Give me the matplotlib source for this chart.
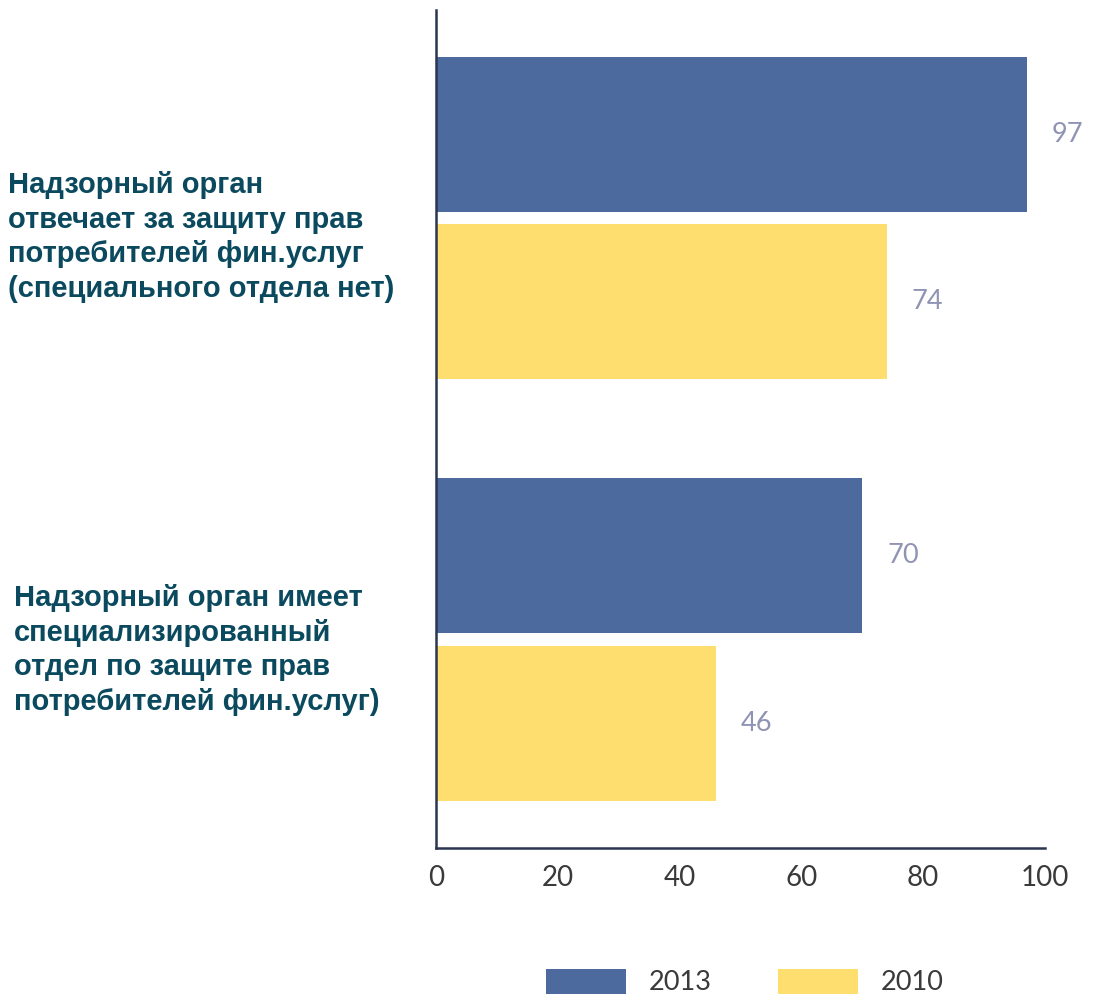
import matplotlib
matplotlib.use("Agg")
import matplotlib.pyplot as plt
import matplotlib.transforms as mtransforms
import numpy as np

categories = [
    "Надзорный орган\nотвечает за защиту прав\nпотребителей фин.услуг\n(специального отдела нет)",
    "Надзорный орган имеет\nспециализированный\nотдел по защите прав\nпотребителей фин.услуг)",
]
series_names = ["2013", "2010"]
values_2013 = [97, 70]
values_2010 = [74, 46]
x_ticks = [0, 20, 40, 60, 80, 100]

colors = ["#4C6A9D", "#FEDE6E"]

fig = plt.figure(figsize=(10.95, 10.02), dpi=100)
W, H = 1095, 1002
left, right, top, bottom = 436, 1045, 10, 848
ax = fig.add_axes([left / W, 1 - bottom / H, (right - left) / W, (bottom - top) / H])

pos = np.arange(len(categories))
off = 0.199
height = 0.368
series = [values_2013, values_2010]
bars = []
for i, (name, vals) in enumerate(zip(series_names, series)):
    yy = pos + (-off if i == 0 else off)
    b = ax.barh(yy, vals, height=height, color=colors[i], label=name)
    bars.append(b)
    for y, v in zip(yy, vals):
        ax.annotate(str(v), xy=(v, y), xytext=(18, 0), textcoords="offset points",
                    va="center", ha="left", fontsize=19.5, color="#9094B4",
                    family="Lato")

ax.set_ylim(1.4947, -0.4935)
ax.set_xlim(0, 100)
ax.set_xticks(x_ticks)
ax.set_xticklabels([str(t) for t in x_ticks], fontsize=20, color="#3A3A3A", family="Lato")
ax.tick_params(axis="x", length=0, pad=12)
ax.set_yticks([])
for s in ["top", "right"]:
    ax.spines[s].set_visible(False)
for s in ["left", "bottom"]:
    ax.spines[s].set_color("#2B3550")
    ax.spines[s].set_linewidth(1.8)

trans = mtransforms.blended_transform_factory(fig.transFigure, ax.transData)
label_x = [8 / W, 14 / W]
label_dy = [0.045, 0.025]
for i, lab in enumerate(categories):
    ax.text(label_x[i], pos[i] + label_dy[i], lab, transform=trans, ha="left", va="center",
            fontsize=21, fontweight="bold", color="#0B4A5E",
            family="Liberation Sans", linespacing=1.3)

fig.legend(handles=bars, labels=series_names, loc="center", bbox_to_anchor=(745 / W, 1 - 982 / H),
           ncol=2, frameon=False, handlelength=2.95, handleheight=1.05,
           handletextpad=0.85, columnspacing=2.45, prop={"family": "Lato", "size": 19.5})
for t in fig.legends[0].get_texts():
    t.set_color("#3A3A3A")

fig.savefig("out.png", dpi=100)
